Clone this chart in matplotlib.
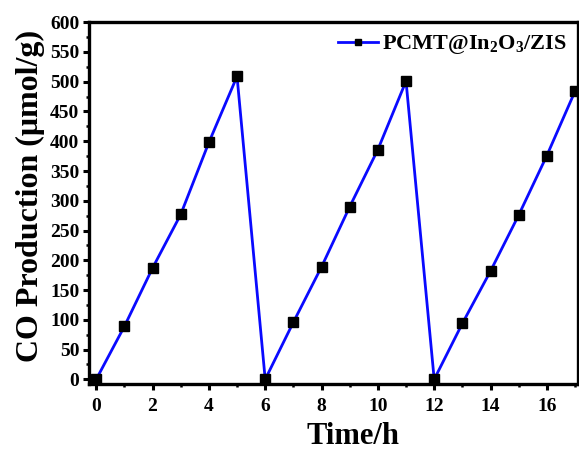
import numpy as np
import matplotlib
matplotlib.use("Agg")
import matplotlib.pyplot as plt
from matplotlib.ticker import MultipleLocator

plt.rcParams['font.family'] = ['Liberation Serif', 'DejaVu Serif']
plt.rcParams['font.weight'] = 'bold'
plt.rcParams['mathtext.fontset'] = 'custom'
plt.rcParams['mathtext.rm'] = 'Liberation Serif:bold'
plt.rcParams['mathtext.default'] = 'rm'

# data
time_h = [0, 1, 2, 3, 4, 5, 6, 7, 8, 9, 10, 11, 12, 13, 14, 15, 16, 17]
co_prod = [0, 89, 187, 277, 398, 509, 0, 96, 189, 290, 386, 501, 0, 94, 182, 276, 376, 484]
series_label = r'PCMT@In$_2$O$_3$/ZIS'

fig = plt.figure(figsize=(5.79, 4.53), dpi=100)
ax = fig.add_axes([0.154, 0.152, 0.844, 0.799])

ax.plot(time_h, co_prod, '-', color='#0a0aff', lw=2.0, marker='s', ms=7.5,
        mfc='black', mec='black', label=series_label)

ax.set_xlim(-0.25, 17.1)
ax.set_ylim(-8, 600)
ax.xaxis.set_major_locator(MultipleLocator(2))
ax.xaxis.set_minor_locator(MultipleLocator(1))
ax.yaxis.set_major_locator(MultipleLocator(50))
ax.yaxis.set_minor_locator(MultipleLocator(25))
ax.tick_params(which='major', direction='out', length=4, width=2.2, labelsize=14, pad=3)
ax.tick_params(axis='x', which='major', pad=6)
ax.tick_params(which='minor', direction='out', length=2.5, width=1.8)
for s in ax.spines.values():
    s.set_linewidth(2.4)

ax.set_xlabel('Time/h', fontsize=22, fontweight='bold')
ax.xaxis.set_label_coords(0.54, -0.105)
ax.set_ylabel('CO Production (μmol/g)', fontsize=23, fontweight='bold')
ax.yaxis.set_label_coords(-0.09, 0.52)

leg = ax.legend(loc='upper right', frameon=False, fontsize=16, handlelength=1.8,
                handletextpad=0.2, borderaxespad=0.1, markerscale=0.65)

fig.savefig('out.png', dpi=100)
